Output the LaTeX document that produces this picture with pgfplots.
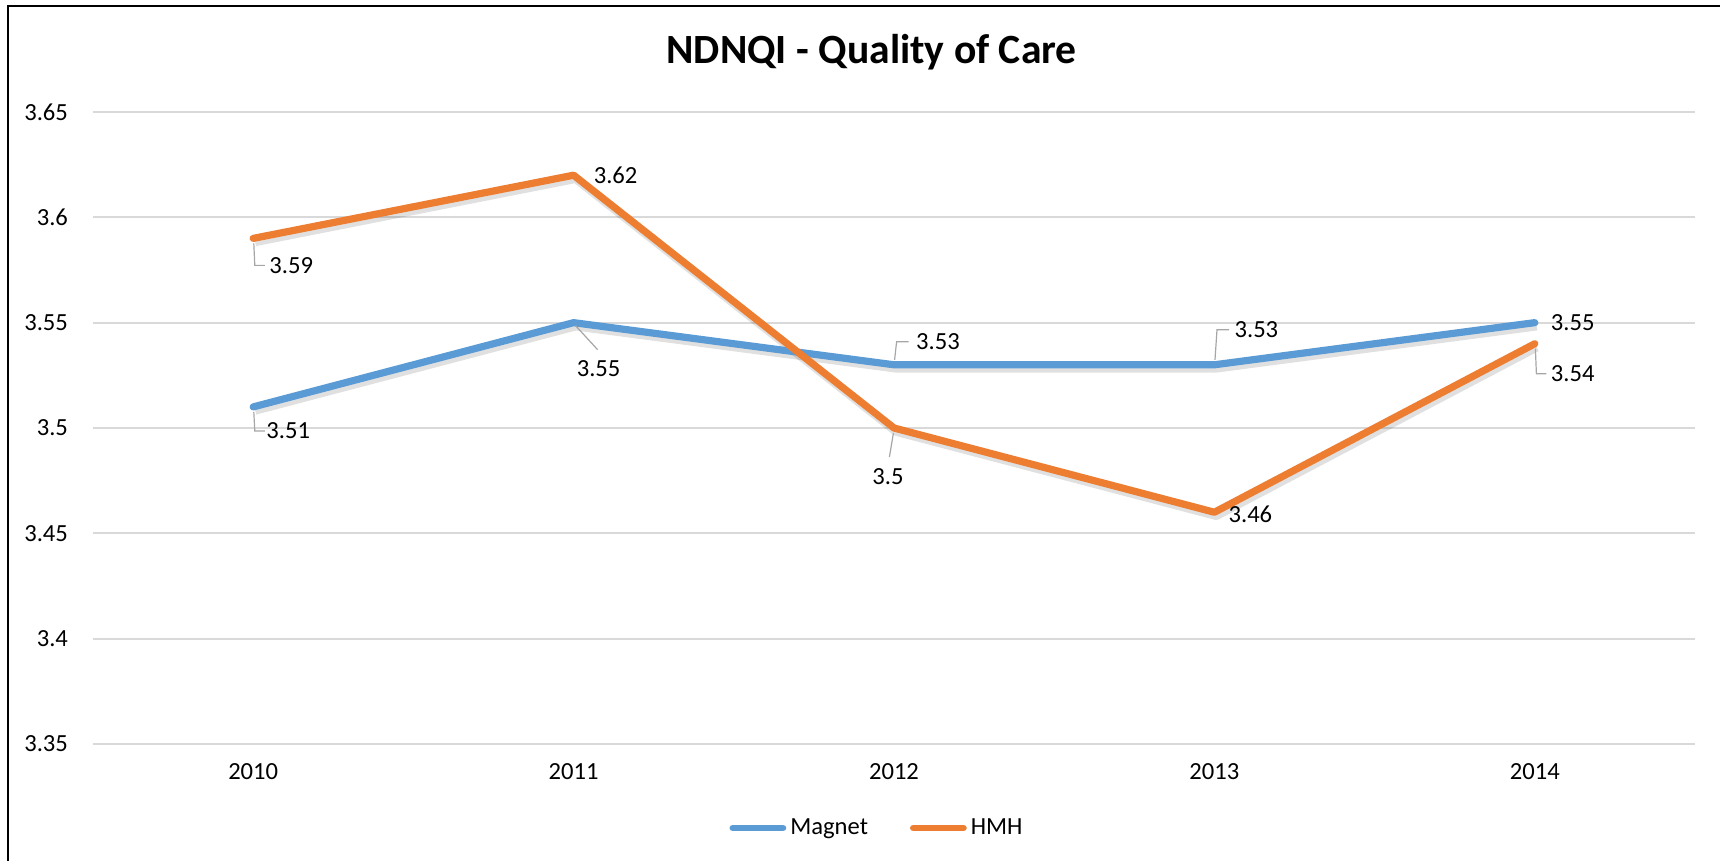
\documentclass[border=0pt]{standalone}
\usepackage{fontspec}
\setmainfont{Carlito}
\usepackage{pgfplots}
\pgfplotsset{compat=1.18}
\usepackage{pgfplotstable}
\definecolor{mblue}{HTML}{5B9BD5}
\definecolor{horange}{HTML}{ED7D31}
\definecolor{gridgray}{HTML}{D9D9D9}
\definecolor{leadgray}{HTML}{A6A6A6}

\pgfplotstableread{
x y lab dx dy
0 3.51 3.51 17.5 -12
1 3.55 3.55 12.5 -23
2 3.53 3.53 22 11.5
3 3.53 3.53 21 17.5
4 3.55 3.55 19 0
}\magnet
\pgfplotstableread{
x y lab dx dy
0 3.59 3.59 19 -13.5
1 3.62 3.62 21 0
2 3.50 3.5 -3 -24.5
3 3.46 3.46 18 -1
4 3.54 3.54 19 -15
}\hmh

\newcommand{\lblfont}{\fontsize{12.3}{14}\selectfont}

\begin{document}
\begin{tikzpicture}
\path[use as bounding box] (0,0) rectangle (860pt,430.5pt);
\draw[black, line width=1.4pt] (4pt,0) -- (4pt,427.5pt) -- (860pt,427.5pt);
\begin{axis}[
  at={(46.5pt,58.5pt)}, anchor=south west,
  scale only axis, width=801pt, height=316pt,
  xmin=-0.5, xmax=4.5, ymin=3.35, ymax=3.65,
  xtick={0,1,2,3,4}, xticklabels={2010,2011,2012,2013,2014},
  ytick={3.35,3.4,3.45,3.5,3.55,3.6,3.65},
  yticklabels={3.35,3.4,3.45,3.5,3.55,3.6,3.65},
  major tick length=0pt,
  axis line style={draw=none},
  ymajorgrids, grid style={gridgray, line width=1pt},
  xticklabel style={font=\lblfont, yshift=-6pt},
  yticklabel style={font=\lblfont, xshift=-9pt},
  /pgf/number format/assume math mode=true,
  title={\fontsize{20.8}{24}\selectfont\bfseries NDNQI - Quality of Care},
  title style={at={(0.486,1.076)}, anchor=center},
  legend style={draw=none, at={(0.49,-0.133)}, anchor=center, legend columns=2,
    font=\lblfont, /tikz/every even column/.append style={column sep=19pt},
    inner sep=0pt},
  legend image code/.code={\draw[#1, line width=3.4pt, line cap=round] (0pt,0pt) -- (25pt,0pt);},
  clip=false,
]
% shadows
\addplot[black, opacity=0.12, line width=4.2pt, line join=round, xshift=1pt, yshift=-1.8pt, forget plot] table[x=x,y=y] {\magnet};
\addplot[black, opacity=0.12, line width=4.2pt, line join=round, xshift=1pt, yshift=-1.8pt, forget plot] table[x=x,y=y] {\hmh};
% series
\addplot[mblue, line width=3.6pt, line join=round, line cap=round,
  nodes near coords, point meta=explicit symbolic,
  visualization depends on={\thisrow{dx}\as\labdx},
  visualization depends on={\thisrow{dy}\as\labdy},
  every node near coord/.append style={anchor=center, xshift=\labdx pt, yshift=\labdy pt, font=\lblfont, text=black, inner sep=0pt}]
  table[x=x,y=y,meta=lab] {\magnet};
\addlegendentry{Magnet}
\addplot[horange, line width=3.6pt, line join=round, line cap=round,
  nodes near coords, point meta=explicit symbolic,
  visualization depends on={\thisrow{dx}\as\labdx},
  visualization depends on={\thisrow{dy}\as\labdy},
  every node near coord/.append style={anchor=center, xshift=\labdx pt, yshift=\labdy pt, font=\lblfont, text=black, inner sep=0pt}]
  table[x=x,y=y,meta=lab] {\hmh};
\addlegendentry{HMH}
% leader lines
\draw[leadgray, line width=0.6pt] (axis cs:0,3.51) ++(0.3pt,-2.5pt) -- ++(0.5pt,-9.5pt) -- ++(5pt,0pt);
\draw[leadgray, line width=0.6pt] (axis cs:0,3.59) ++(0.3pt,-2.5pt) -- ++(0.5pt,-11pt) -- ++(5pt,0pt);
\draw[leadgray, line width=0.6pt] (axis cs:1,3.55) ++(1pt,-1.5pt) -- ++(11pt,-12pt);
\draw[leadgray, line width=0.6pt] (axis cs:2,3.53) ++(0.3pt,2.5pt) -- ++(1pt,9pt) -- ++(6pt,0pt);
\draw[leadgray, line width=0.6pt] (axis cs:3,3.53) ++(0.3pt,2.5pt) -- ++(1pt,15pt) -- ++(6pt,0pt);
\draw[leadgray, line width=0.6pt] (axis cs:2,3.50) ++(-0.3pt,-2.5pt) -- ++(-2pt,-12pt);
\draw[leadgray, line width=0.6pt] (axis cs:4,3.54) ++(0.3pt,-2.5pt) -- ++(0.5pt,-12.5pt) -- ++(5pt,0pt);
\end{axis}
\end{tikzpicture}
\end{document}
